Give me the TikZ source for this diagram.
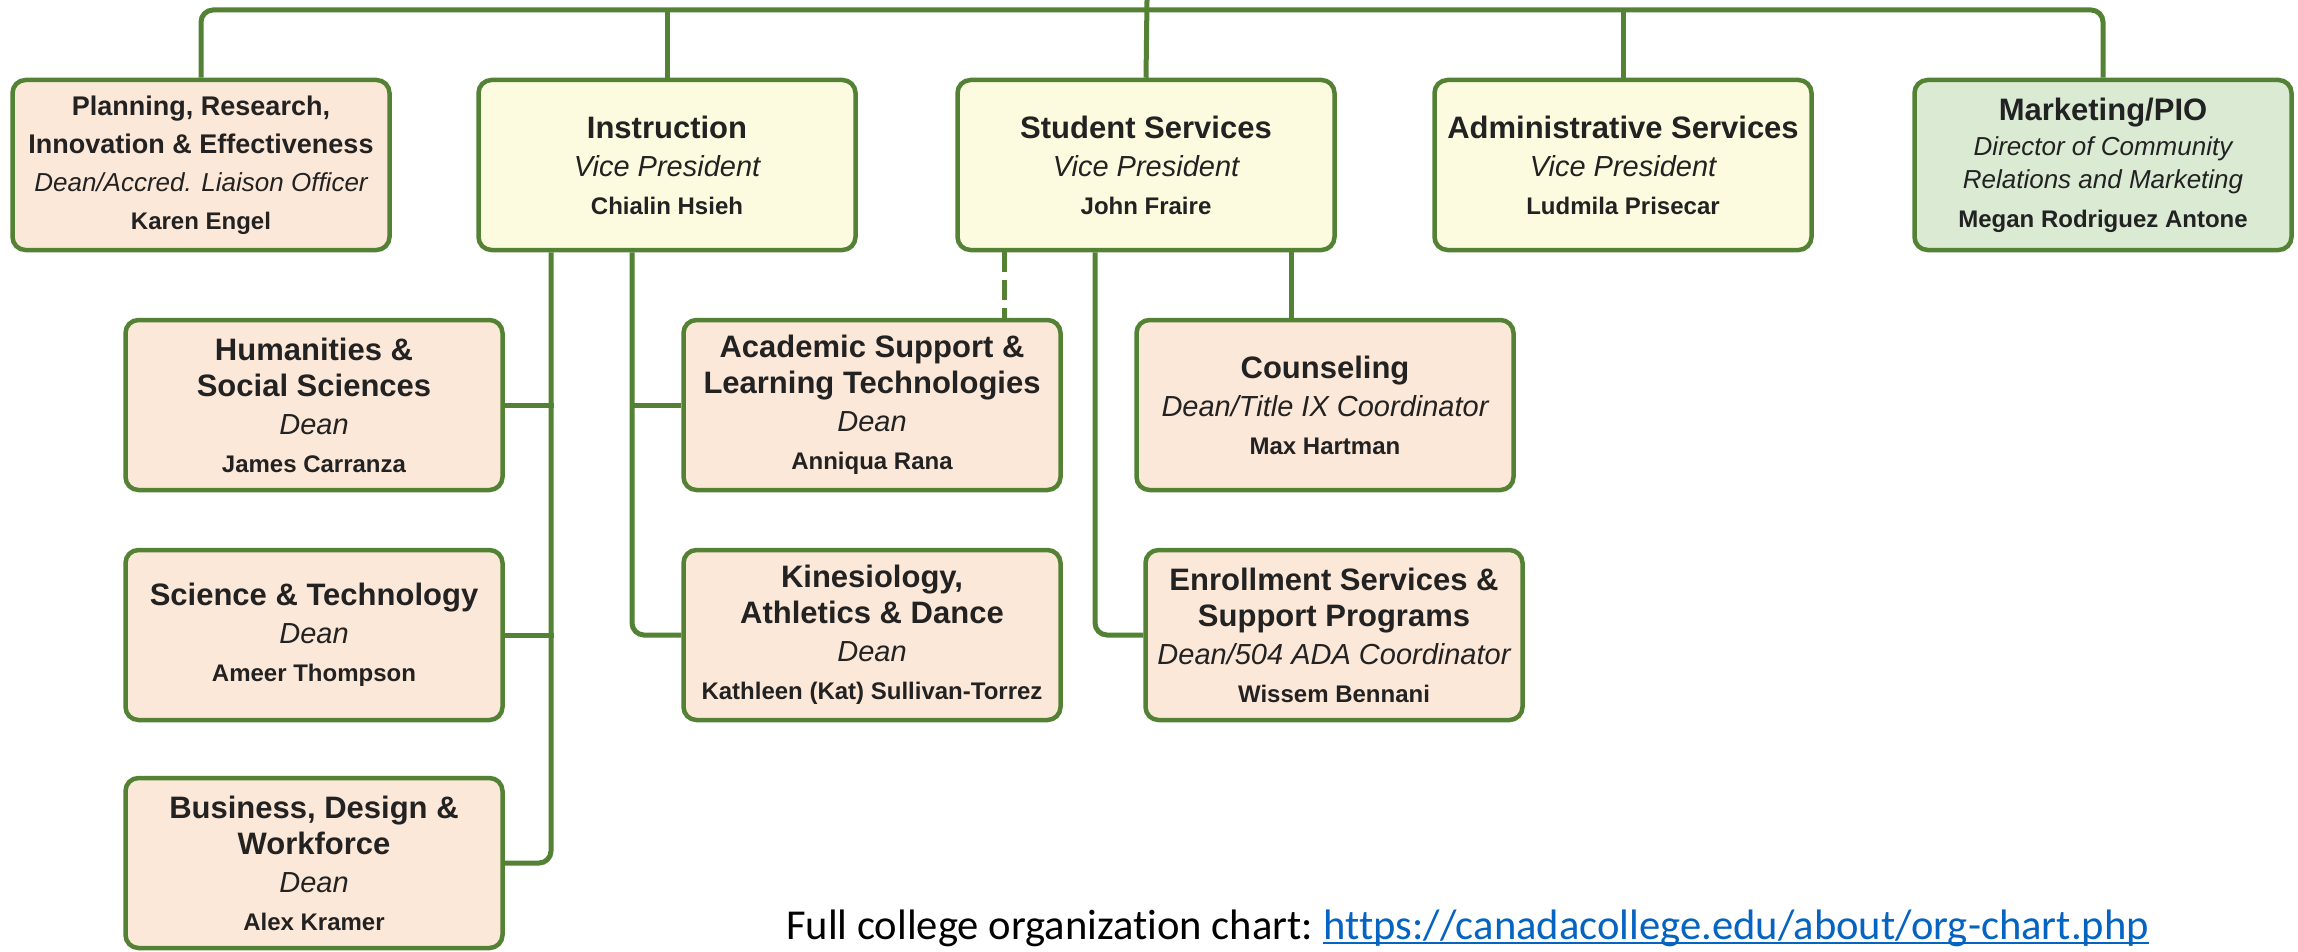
\documentclass[tikz,border=0pt]{standalone}
\usepackage{fontspec}
\setmainfont{Liberation Sans}
\newfontfamily\footfont[Ligatures=NoCommon]{Carlito}
\definecolor{edge}{HTML}{548235}
\definecolor{peach}{HTML}{FCE8D8}
\definecolor{lemon}{HTML}{FDFBDF}
\definecolor{mint}{HTML}{DAEAD3}
\definecolor{txt}{HTML}{222222}
\definecolor{linkblue}{HTML}{0563C1}
\newcommand\TitleF{\fontsize{31}{38}\selectfont\bfseries}
\newcommand\RoleF{\fontsize{29}{38}\selectfont\itshape}
\newcommand\NameF{\fontsize{24}{38}\selectfont\bfseries}
\newcommand\TitleS{\fontsize{27}{37}\selectfont\bfseries}
\newcommand\RoleS{\fontsize{26}{37}\selectfont\itshape}
\begin{document}
\begin{tikzpicture}[x=1pt,y=-1pt,
  card/.style={draw=edge, line width=4.5pt, rounded corners=13pt, align=center,
    inner sep=0pt, text=txt, minimum width=377pt, minimum height=170pt,
    font=\fontsize{24}{38}\selectfont},
  dean/.style={card, fill=peach},
  vp/.style={card, fill=lemon},
  pio/.style={card, fill=mint},
  conn/.style={draw=edge, line width=5pt},
  elbow/.style={conn, rounded corners=12pt},
  dashlink/.style={conn, dash pattern=on 20pt off 8pt},
  footstyle/.style={anchor=base west, inner sep=0pt, font=\footfont\fontsize{42.6}{50}\selectfont}]
\useasboundingbox (0,0) rectangle (2298,952);

% row 1
\node[dean] (plan) at (201,165) {\rule{0pt}{6pt}{\TitleS Planning, Research,}\\{\TitleS Innovation \& Effectiveness}\\{\RoleS Dean/Accred. Liaison Officer}\\{\NameF Karen Engel}};
\node[vp] (instr) at (667,165) {{\TitleF Instruction}\\{\RoleF Vice President}\\{\NameF Chialin Hsieh}};
\node[vp] (stud) at (1146,165) {{\TitleF Student Services}\\{\RoleF Vice President}\\{\NameF John Fraire}};
\node[vp] (admin) at (1623,165) {{\TitleF Administrative Services}\\{\RoleF Vice President}\\{\NameF Ludmila Prisecar}};
\node[pio] (mkt) at (2103,165) {{\TitleF Marketing/PIO}\\[-3pt]{\RoleS Director of Community}\\[-5pt]{\RoleS Relations and Marketing}\\[1pt]{\NameF Megan Rodriguez Antone}};

% row 2
\node[dean] (hum) at (314,405) {{\TitleF Humanities \&}\\[-2pt]{\TitleF Social Sciences}\\{\RoleF Dean}\\{\NameF James Carranza}};
\node[dean] (acad) at (872,405) {{\TitleF Academic Support \&}\\[-2pt]{\TitleF Learning Technologies}\\{\RoleF Dean}\\{\NameF Anniqua Rana}};
\node[dean] (couns) at (1325,405) {{\TitleF Counseling}\\{\RoleF Dean/Title IX Coordinator}\\{\NameF Max Hartman}};

% row 3
\node[dean] (sci) at (314,635) {{\TitleF Science \& Technology}\\{\RoleF Dean}\\{\NameF Ameer Thompson}};
\node[dean] (kin) at (872,635) {{\TitleF Kinesiology,}\\[-2pt]{\TitleF Athletics \& Dance}\\{\RoleF Dean}\\{\NameF Kathleen (Kat) Sullivan-Torrez}};
\node[dean] (enr) at (1334,635) {{\TitleF Enrollment Services \&}\\[-2pt]{\TitleF Support Programs}\\{\RoleF Dean/504 ADA Coordinator}\\{\NameF Wissem Bennani}};

% row 4
\node[dean] (biz) at (314,863) {{\TitleF Business, Design \&}\\[-2pt]{\TitleF Workforce}\\{\RoleF Dean}\\{\NameF Alex Kramer}};

% top connectors
\coordinate (pres) at (1147,0);
\coordinate (bus) at (1147,10);
\draw[elbow] (plan.north) |- (bus) -| (mkt.north);
\draw[conn] (pres) -- (stud.north);
\draw[conn] (instr.north) -- (instr.north |- bus);
\draw[conn] (admin.north) -- (admin.north |- bus);

% instruction branch
\coordinate (iL) at ([xshift=-116pt]instr.south);
\coordinate (iR) at ([xshift=-35pt]instr.south);
\draw[elbow] (iL) |- (biz.east);
\draw[conn] (hum.east) -- ([xshift=2.5pt]hum.east -| iL);
\draw[conn] (sci.east) -- ([xshift=2.5pt]sci.east -| iL);
\draw[elbow] (iR) |- (kin.west);
\draw[conn] (acad.west) -- ([xshift=-2.5pt]acad.west -| iR);

% student services branch
\coordinate (sD) at ([xshift=-142pt]stud.south);
\coordinate (sE) at ([xshift=-51pt]stud.south);
\coordinate (sC) at ([xshift=145pt]stud.south);
\draw[dashlink] (sD) -- (sD |- acad.north);
\draw[elbow] (sE) |- (enr.west);
\draw[conn] (sC) -- (sC |- couns.north);

% footer
\node[footstyle, text=black] (foot) at (786,939) {Full college organization chart:};
\node[footstyle, text=linkblue] (url) at ([xshift=10pt]foot.base east) {https://canadacollege.edu/about/org-chart.php};
\draw[linkblue, line width=2.5pt] ([yshift=-4pt]url.base west) -- ([yshift=-4pt]url.base east);
\end{tikzpicture}
\end{document}
